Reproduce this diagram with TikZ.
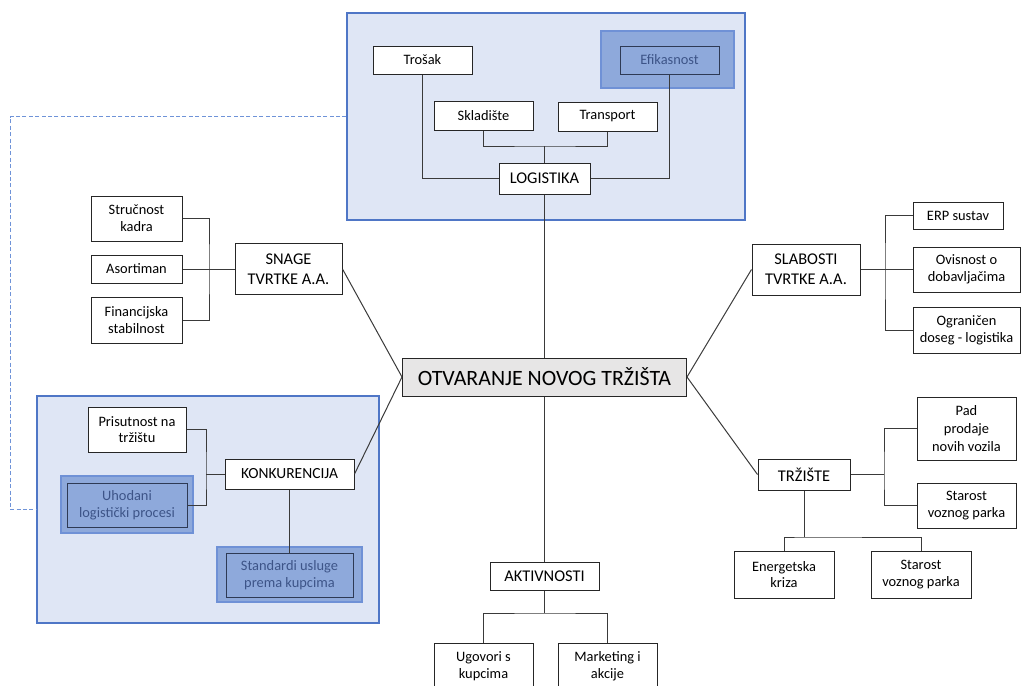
\documentclass[tikz,border=0pt]{standalone}
\usepackage{fontspec}
\setmainfont{Carlito}
\definecolor{bgblue}{HTML}{DFE6F5}
\definecolor{bordblue}{HTML}{4F76C6}
\definecolor{hiblue}{HTML}{8EA9DB}
\definecolor{hiedge}{HTML}{6F91D6}
\definecolor{hitext}{HTML}{3D5488}
\definecolor{hiline}{HTML}{2E3A55}
\definecolor{lin}{HTML}{3A3A3A}
\definecolor{gry}{HTML}{E7E6E6}
\definecolor{dash}{HTML}{6F93D8}
\tikzset{
  wh/.style 2 args={minimum width=#1*0.75pt, minimum height=#2*0.75pt},
  box/.style={draw=black!85, line width=0.75pt, fill=white, inner sep=0pt, align=center,
     font=\fontsize{10.8}{12.6}\selectfont},
  midbox/.style={box, font=\fontsize{12.3}{15}\selectfont},
  hibox/.style={box, fill=hiblue, draw=hiline, text=hitext},
  bigbox/.style={draw=bordblue, line width=0.9pt, fill=bgblue, inner sep=0pt},
  hiback/.style={draw=hiedge, line width=1pt, fill=hiblue, inner sep=0pt},
  conn/.style={draw=lin, line width=0.75pt},
  dashconn/.style={draw=dash, line width=0.75pt, dash pattern=on 3pt off 1.8pt},
}
\begin{document}
\begin{tikzpicture}[x=0.75pt, y=-0.75pt]
\useasboundingbox (0,0) rectangle (1022,686);
\clip (0,0) rectangle (1022,686);
% big background boxes
\node[bigbox, wh={398}{207}] (lgb) at (546,116.5) {};
\node[bigbox, wh={342}{227}] (kgb) at (208,509.5) {};
% highlight backs
\node[hiback, wh={133}{57}] (efb) at (667.5,59.5) {};
\node[hiback, wh={132}{57}] (uhb) at (127,504.5) {};
\node[hiback, wh={145}{55}] (stb) at (289.5,574.5) {};
% logistics cluster
\node[box, wh={99}{28}] (tro) at (422.5,60) {Trošak};
\node[hibox, wh={99}{28}] (efi) at (669.5,60) {Efikasnost};
\node[box, wh={99}{29}] (skl) at (483.5,115.5) {Skladište};
\node[box, wh={99}{29}] (tra) at (607.5,116.5) {Transport};
\node[midbox, wh={91}{31}] (log) at (544.5,178.5) {LOGISTIKA};
% centre
\node[box, fill=gry, wh={284}{38}, font=\fontsize{16.4}{18}\selectfont] (otv) at (544.5,377) {OTVARANJE NOVOG TRŽIŠTA};
% strengths
\node[midbox, wh={107}{51}] (sna) at (288.5,269) {SNAGE\\TVRTKE A.A.};
\node[box, wh={91}{45}] (str) at (136.5,218.5) {Stručnost\\kadra};
\node[box, wh={91}{28}] (aso) at (136.5,269) {Asortiman};
\node[box, wh={91}{46}] (fin) at (136.5,320) {Financijska\\stabilnost};
% competition
\node[box, wh={98}{45}] (pri) at (137,429.5) {Prisutnost na\\tržištu};
\node[midbox, wh={129}{30}, font=\fontsize{11.6}{14}\selectfont] (kon) at (289.5,474) {KONKURENCIJA};
\node[hibox, wh={120}{44}] (uho) at (127,505) {Uhodani\\logistički procesi};
\node[hibox, wh={127}{44}] (sta) at (289.5,575) {Standardi usluge\\prema kupcima};
% weaknesses
\node[midbox, wh={108}{51}] (sla) at (806,269.5) {SLABOSTI\\TVRTKE A.A.};
\node[box, wh={90}{27}] (erp) at (958,215.5) {ERP sustav};
\node[box, wh={107}{45}] (ovi) at (966.5,269.5) {Ovisnost o\\dobavljačima};
\node[box, wh={107}{46}] (ogr) at (966.5,330) {Ograničen\\doseg - logistika};
% market
\node[midbox, wh={92}{31}] (trz) at (804,474.5) {TRŽIŠTE};
\node[box, wh={99}{63}, font=\fontsize{10.8}{13.6}\selectfont] (pad) at (966.5,428.5) {Pad\\prodaje\\novih vozila};
\node[box, wh={99}{45}] (srr) at (966.5,505.5) {Starost\\voznog parka};
\node[box, wh={100}{47}] (ene) at (784,574.5) {Energetska\\kriza};
\node[box, wh={100}{47}] (srb) at (921,574.5) {Starost\\voznog parka};
% activities
\node[midbox, wh={109}{28}] (akt) at (544.5,576) {AKTIVNOSTI};
\node[box, wh={99}{46}] (ugo) at (483.5,666) {Ugovori s\\kupcima};
\node[box, wh={99}{46}] (mar) at (607.5,666) {Marketing i\\akcije};
% junction coordinates
\coordinate (lj) at (544.5,146);
\coordinate (sj) at (209,269);
\coordinate (kj) at (206,474);
\coordinate (wj) at (885,269.5);
\coordinate (tj) at (884,474.5);
\coordinate (tb) at (804,537);
\coordinate (ab) at (544.5,613);
\coordinate (dx) at (10,300);
% connectors
\draw[conn] (tro.south) |- (log.west);
\draw[conn] (efi.south) |- (log.east);
\draw[conn] (skl.south) |- (lj) -| (tra.south);
\draw[conn] (lj) -- (log.north);
\draw[conn] (log.south) -- (otv.north);
\draw[conn] (str.east) -| (sj) |- (fin.east);
\draw[conn] (aso.east) -- (sna.west);
\draw[conn] (pri.east) -| (kj) |- (uho.east);
\draw[conn] (kj) -- (kon.west);
\draw[conn] (kon.south) -- (sta.north);
\draw[conn] (erp.west) -| (wj) |- (ogr.west);
\draw[conn] (sla.east) -- (ovi.west);
\draw[conn] (pad.west) -| (tj) |- (srr.west);
\draw[conn] (trz.east) -- (tj);
\draw[conn] (ene.north) |- (tb) -| (srb.north);
\draw[conn] (trz.south) -- (tb);
\draw[conn] (ugo.north) |- (ab) -| (mar.north);
\draw[conn] (akt.south) -- (ab);
\draw[conn] (otv.south) -- (akt.north);
\draw[conn] (sna.east) -- (otv.west);
\draw[conn] (kon.east) -- (otv.west);
\draw[conn] (sla.west) -- (otv.east);
\draw[conn] (trz.west) -- (otv.east);
\draw[dashconn] (lgb.west) -| (dx) |- (kgb.west);
\end{tikzpicture}
\end{document}
